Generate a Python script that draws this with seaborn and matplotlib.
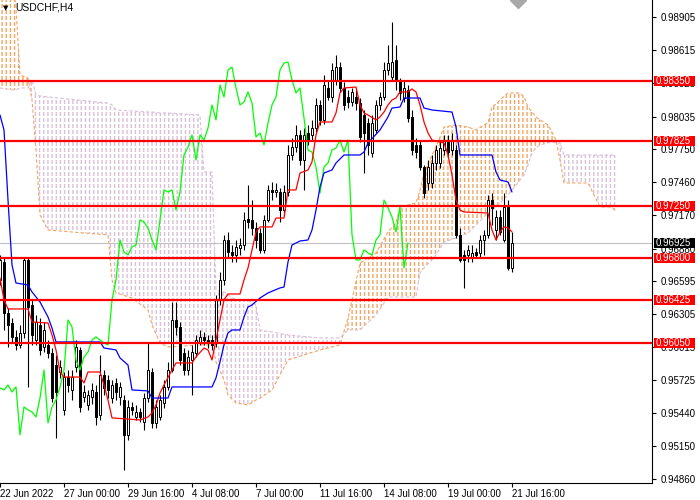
import numpy as np
import pandas as pd
import matplotlib
matplotlib.use('Agg')
import matplotlib.pyplot as plt
import matplotlib.transforms as mtransforms
from matplotlib.patches import Rectangle
import seaborn as sns

# USDCHF H4 candles, one per bar
opens = [0.96605, 0.96762, 0.96316, 0.96228, 0.96106, 0.96036, 0.96141, 0.96780, 0.96386, 0.96079,
         0.96211, 0.96018, 0.96036, 0.95966, 0.95860, 0.95799, 0.95467, 0.95755, 0.95642, 0.95843,
         0.95992, 0.95580, 0.95510, 0.95580, 0.95624, 0.95423, 0.95773, 0.95729, 0.95571, 0.95703,
         0.95580, 0.95554, 0.95248, 0.95493, 0.95405, 0.95449, 0.95361, 0.95571, 0.95799, 0.95353,
         0.95405, 0.95528, 0.95668, 0.95817, 0.96254, 0.96193, 0.95966, 0.95817, 0.95904, 0.95966,
         0.96062, 0.96106, 0.96079, 0.96079, 0.96053, 0.96430, 0.96605, 0.96955, 0.96850, 0.96824,
         0.96885, 0.96911, 0.97139, 0.97130, 0.97060, 0.97016, 0.96868, 0.97130, 0.97393, 0.97375,
         0.97375, 0.97217, 0.97375, 0.97699, 0.97769, 0.97874, 0.97655, 0.97892, 0.97874, 0.97935,
         0.98137, 0.98006, 0.98286, 0.98207, 0.98356, 0.98469, 0.98286, 0.98207, 0.98163, 0.98207,
         0.98154, 0.98049, 0.97979, 0.97716, 0.97918, 0.98137, 0.98207, 0.98443, 0.98382, 0.98531,
         0.98356, 0.98198, 0.98268, 0.98032, 0.97787, 0.97787, 0.97594, 0.97454, 0.97454, 0.97629,
         0.97629, 0.97743, 0.97813, 0.97743, 0.97743, 0.96999, 0.96824, 0.96824, 0.96797, 0.96850,
         0.96841, 0.96955, 0.96999, 0.97305, 0.97042, 0.97156, 0.96955, 0.97244, 0.96710]
highs = [0.96824, 0.96797, 0.96360, 0.96272, 0.96167, 0.96211, 0.96797, 0.96797, 0.96430, 0.96298,
         0.96272, 0.96237, 0.96079, 0.96009, 0.95948, 0.95904, 0.95799, 0.95817, 0.95817, 0.96079,
         0.96018, 0.95685, 0.95642, 0.95703, 0.95685, 0.95948, 0.95817, 0.95773, 0.95729, 0.95747,
         0.95712, 0.95598, 0.95554, 0.95536, 0.95510, 0.95484, 0.95615, 0.96053, 0.95834, 0.95554,
         0.95598, 0.95729, 0.95887, 0.96412, 0.96412, 0.96237, 0.96009, 0.95992, 0.96036, 0.96123,
         0.96167, 0.96149, 0.96123, 0.96123, 0.96473, 0.96675, 0.96999, 0.97025, 0.96911, 0.96955,
         0.96972, 0.97200, 0.97436, 0.97305, 0.97112, 0.97060, 0.97174, 0.97436, 0.97463, 0.97454,
         0.97410, 0.97436, 0.97787, 0.97848, 0.97962, 0.97918, 0.97935, 0.97962, 0.98006, 0.98198,
         0.98181, 0.98399, 0.98356, 0.98504, 0.98574, 0.98513, 0.98338, 0.98268, 0.98286, 0.98268,
         0.98198, 0.98093, 0.98023, 0.98049, 0.98181, 0.98251, 0.98513, 0.98662, 0.98863, 0.98662,
         0.98373, 0.98356, 0.98312, 0.98093, 0.97848, 0.97830, 0.97611, 0.97655, 0.97699, 0.97787,
         0.97830, 0.97874, 0.97874, 0.97892, 0.97787, 0.97060, 0.96868, 0.96911, 0.96911, 0.96885,
         0.96999, 0.97042, 0.97349, 0.97366, 0.97217, 0.97217, 0.97366, 0.97305, 0.97025]
lows = [0.96561, 0.96167, 0.96018, 0.96062, 0.95992, 0.96009, 0.96097, 0.95668, 0.96036, 0.96036,
        0.95948, 0.95974, 0.95922, 0.95536, 0.95221, 0.95747, 0.95423, 0.95624, 0.95554, 0.95799,
        0.95449, 0.95536, 0.95467, 0.95519, 0.95335, 0.95379, 0.95598, 0.95571, 0.95528, 0.95554,
        0.95510, 0.94941, 0.95204, 0.95423, 0.95379, 0.95361, 0.95291, 0.95536, 0.95309, 0.95309,
        0.95379, 0.95484, 0.95642, 0.95799, 0.96123, 0.95860, 0.95773, 0.95773, 0.95598, 0.95931,
        0.96036, 0.96036, 0.96009, 0.95992, 0.96018, 0.96386, 0.96561, 0.96797, 0.96762, 0.96762,
        0.96824, 0.96868, 0.97060, 0.96999, 0.96885, 0.96841, 0.96841, 0.97112, 0.97305, 0.97331,
        0.97112, 0.97174, 0.97340, 0.97655, 0.97725, 0.97611, 0.97393, 0.97787, 0.97830, 0.97900,
        0.97962, 0.97970, 0.98181, 0.98163, 0.98312, 0.98251, 0.98093, 0.98110, 0.98128, 0.98093,
        0.97813, 0.97541, 0.97699, 0.97681, 0.97892, 0.98093, 0.98181, 0.98399, 0.98356, 0.98268,
        0.98181, 0.98163, 0.97988, 0.97699, 0.97673, 0.97568, 0.97322, 0.97393, 0.97410, 0.97568,
        0.97585, 0.97699, 0.97690, 0.97699, 0.96972, 0.96762, 0.96535, 0.96762, 0.96762, 0.96797,
        0.96797, 0.96824, 0.96972, 0.97086, 0.96955, 0.96999, 0.96937, 0.96692, 0.96675]
closes = [0.96780, 0.96316, 0.96211, 0.96106, 0.96036, 0.96141, 0.96780, 0.96368, 0.96123, 0.96237,
          0.95992, 0.96167, 0.95966, 0.95571, 0.95624, 0.95843, 0.95755, 0.95685, 0.95755, 0.96018,
          0.95493, 0.95624, 0.95598, 0.95642, 0.95405, 0.95773, 0.95659, 0.95642, 0.95685, 0.95624,
          0.95668, 0.95248, 0.95493, 0.95467, 0.95449, 0.95405, 0.95571, 0.95817, 0.95353, 0.95493,
          0.95554, 0.95668, 0.95817, 0.96254, 0.96193, 0.95904, 0.95817, 0.95931, 0.95974, 0.96079,
          0.96106, 0.96079, 0.96053, 0.96036, 0.96430, 0.96605, 0.96955, 0.96850, 0.96824, 0.96894,
          0.96911, 0.97130, 0.97112, 0.97060, 0.96955, 0.96868, 0.97130, 0.97393, 0.97375, 0.97393,
          0.97217, 0.97375, 0.97699, 0.97769, 0.97874, 0.97655, 0.97874, 0.97830, 0.97935, 0.98137,
          0.98006, 0.98312, 0.98207, 0.98443, 0.98469, 0.98286, 0.98137, 0.98163, 0.98251, 0.98154,
          0.97857, 0.97892, 0.97787, 0.97979, 0.98137, 0.98207, 0.98443, 0.98504, 0.98513, 0.98356,
          0.98242, 0.98286, 0.98023, 0.97743, 0.97725, 0.97594, 0.97366, 0.97594, 0.97629, 0.97743,
          0.97760, 0.97830, 0.97725, 0.97830, 0.96999, 0.96780, 0.96780, 0.96868, 0.96841, 0.96824,
          0.96955, 0.96999, 0.97305, 0.97235, 0.97156, 0.97025, 0.97244, 0.96710, 0.96929]

# Ichimoku lines (bar index, price)
tenkan_bars = [0, 1, 2, 7, 8, 12, 13, 14, 15, 16, 20, 21, 22, 25, 26, 27, 28, 35, 37, 38, 39, 40, 41,
               43, 44, 48, 49, 51, 52, 53, 54, 56, 57, 60, 61, 62, 64, 65, 68, 69, 71, 72, 74, 75,
               77, 78, 79, 80, 83, 84, 85, 86, 89, 90, 91, 92, 94, 95, 96, 97, 98, 99, 100, 102,
               103, 104, 105, 106, 107, 108, 111, 112, 113, 114, 115, 116, 122, 123, 124, 125, 126,
               127, 128]
tenkan = [0.96622, 0.96430, 0.96351, 0.96351, 0.96237, 0.96228, 0.96123, 0.95992, 0.95799, 0.95755,
          0.95755, 0.95703, 0.95799, 0.95799, 0.95685, 0.95554, 0.95397, 0.95379, 0.95405, 0.95440,
          0.95510, 0.95615, 0.95685, 0.95817, 0.95878, 0.95878, 0.95931, 0.96009, 0.95992, 0.95904,
          0.96079, 0.96430, 0.96482, 0.96482, 0.96605, 0.96710, 0.97025, 0.97069, 0.97069, 0.97147,
          0.97147, 0.97393, 0.97393, 0.97541, 0.97568, 0.97638, 0.97874, 0.97988, 0.97988, 0.98067,
          0.98242, 0.98286, 0.98294, 0.98137, 0.98067, 0.98049, 0.98006, 0.98032, 0.98075, 0.98137,
          0.98181, 0.98198, 0.98251, 0.98251, 0.98277, 0.98251, 0.98137, 0.97988, 0.97892, 0.97830,
          0.97804, 0.97699, 0.97524, 0.97305, 0.97217, 0.97200, 0.97191, 0.97042, 0.96955, 0.97025,
          0.97069, 0.97060, 0.97025]

kijun_bars = [0, 1, 2, 3, 4, 7, 8, 10, 12, 13, 14, 25, 26, 29, 30, 32, 33, 37, 38, 42, 43, 53, 54,
              55, 56, 57, 58, 60, 61, 62, 63, 65, 67, 70, 71, 72, 73, 75, 77, 78, 79, 80, 81, 83,
              84, 86, 90, 91, 92, 95, 97, 98, 100, 101, 105, 106, 108, 113, 114, 115, 123, 124,
              125, 127, 128]
kijun = [0.98049, 0.97918, 0.97305, 0.96736, 0.96578, 0.96561, 0.96500, 0.96412, 0.96281, 0.96184,
         0.96062, 0.96062, 0.96009, 0.95992, 0.95922, 0.95860, 0.95642, 0.95633, 0.95571, 0.95571,
         0.95668, 0.95668, 0.95747, 0.95887, 0.96036, 0.96141, 0.96167, 0.96167, 0.96281, 0.96368,
         0.96386, 0.96447, 0.96491, 0.96535, 0.96543, 0.96762, 0.96911, 0.96946, 0.96955, 0.97042,
         0.97217, 0.97419, 0.97541, 0.97568, 0.97629, 0.97699, 0.97699, 0.97725, 0.97804, 0.97918,
         0.98032, 0.98110, 0.98119, 0.98198, 0.98198, 0.98110, 0.98093, 0.98075, 0.97944, 0.97699,
         0.97699, 0.97550, 0.97480, 0.97463, 0.97375]

# Kumo (Senkou Span A / B), already shifted 26 bars forward
cloud_bars = [0, 3, 4, 5, 7, 8, 9, 10, 12, 27, 28, 29, 33, 37, 38, 40, 42, 50, 51, 53, 54, 56, 57,
              59, 62, 64, 65, 68, 72, 80, 85, 87, 90, 94, 97, 99, 100, 104, 105, 106, 108, 109,
              111, 114, 117, 119, 121, 122, 123, 124, 125, 127, 130, 131, 132, 133, 134, 135, 137,
              138, 139, 140, 141, 147, 150, 153, 154]
span_a = [0.99275, 0.99275, 0.98986, 0.98399, 0.98373, 0.98181, 0.97743, 0.97174, 0.97042, 0.96999,
          0.96605, 0.96491, 0.96447, 0.96342, 0.96211, 0.96053, 0.96018, 0.96036, 0.96036, 0.96036,
          0.95887, 0.95729, 0.95598, 0.95528, 0.95510, 0.95554, 0.95571, 0.95642, 0.95904, 0.95992,
          0.96036, 0.96272, 0.96753, 0.96841, 0.97025, 0.97104, 0.97244, 0.97279, 0.97393, 0.97541,
          0.97699, 0.97769, 0.97944, 0.97962, 0.97944, 0.97918, 0.97962, 0.97979, 0.98119, 0.98145,
          0.98181, 0.98242, 0.98242, 0.98207, 0.98119, 0.98075, 0.98032, 0.98006, 0.97962, 0.97900,
          0.97830, 0.97655, 0.97454, 0.97454, 0.97244, 0.97244, 0.97200]
span_b = [0.98286, 0.98268, 0.98268, 0.98286, 0.98286, 0.98356, 0.98224, 0.98216, 0.98207, 0.98154,
          0.98137, 0.98093, 0.98084, 0.98075, 0.98075, 0.98067, 0.98067, 0.98049, 0.97550, 0.97550,
          0.96517, 0.96500, 0.96473, 0.96430, 0.96430, 0.96386, 0.96167, 0.96149, 0.96123, 0.96097,
          0.96097, 0.96167, 0.96167, 0.96298, 0.96456, 0.96456, 0.96456, 0.96456, 0.96666, 0.96710,
          0.96780, 0.96824, 0.96937, 0.96972, 0.97016, 0.97086, 0.97156, 0.97191, 0.97217, 0.97244,
          0.97279, 0.97349, 0.97480, 0.97524, 0.97611, 0.97716, 0.97760, 0.97787, 0.97804, 0.97813,
          0.97804, 0.97804, 0.97699, 0.97699, 0.97699, 0.97699, 0.97699]

chikou_shift = 26

tick_bars = [0, 16, 32, 48, 64, 80, 96, 112, 128]
tick_labels = ['22 Jun 2022', '27 Jun 00:00', '29 Jun 16:00', '4 Jul 08:00', '7 Jul 00:00',
               '11 Jul 16:00', '14 Jul 08:00', '19 Jul 00:00', '21 Jul 16:00']
price_ticks = [0.98905, 0.98615, 0.98325, 0.98035, 0.97750, 0.97460, 0.97170, 0.96880,
               0.96595, 0.96305, 0.96015, 0.95725, 0.95440, 0.95150, 0.94860]
levels = [0.98350, 0.97825, 0.97250, 0.96800, 0.96425, 0.96050]
last_price = 0.96925

ylo, yhi = 0.94827, 0.99056
n_slots = 163

sns.set_style('white')
plt.rcParams['font.family'] = ['Liberation Sans', 'DejaVu Sans']
plt.rcParams['hatch.linewidth'] = 1.0

fig = plt.figure(figsize=(7, 5), dpi=100)
ax = fig.add_axes([0, 17 / 500, 652 / 700, 483 / 500])
px = (yhi - ylo) / 483  # price per pixel

ohlc = pd.DataFrame({'open': opens, 'high': highs, 'low': lows, 'close': closes})
bars = ohlc.index.values
bull = ohlc['close'] >= ohlc['open']

# cloud hatching, broken into dashes by white stripes
a = np.array(span_a)
b = np.array(span_b)
ax.fill_between(cloud_bars, a, b, where=a >= b, interpolate=True, facecolor='none',
                edgecolor='#F4A460', hatch='||||', linewidth=0, zorder=0.5)
ax.fill_between(cloud_bars, a, b, where=a < b, interpolate=True, facecolor='none',
                edgecolor='#D8BFD8', hatch='||||', linewidth=0, zorder=0.5)
ax.hlines(np.arange(ylo, yhi, 6 * px), 0, n_slots, colors='white', linewidth=1.5, zorder=0.6)
sns.lineplot(x=cloud_bars, y=span_a, color='#F4A460', lw=0.8, linestyle=(0, (3, 2)), ax=ax, zorder=0.7)
sns.lineplot(x=cloud_bars, y=span_b, color='#D8BFD8', lw=0.8, linestyle=(0, (3, 2)), ax=ax, zorder=0.7)

ax.axhline(last_price, color='#C0C0C0', lw=0.8, zorder=0.8)

# candles
ax.vlines(bars, ohlc['low'], ohlc['high'], color='black', lw=0.8, zorder=3)
body_lo = ohlc[['open', 'close']].min(axis=1)
body_h = (ohlc['close'] - ohlc['open']).abs().clip(lower=px * 0.8)
ax.bar(bars, body_h, bottom=body_lo, width=0.7, color=np.where(bull, 'white', 'black'),
       edgecolor='black', linewidth=0.7, zorder=4)

# ichimoku lines
sns.lineplot(x=bars[:-chikou_shift], y=closes[chikou_shift:], color='#00FF00', lw=0.9, ax=ax, zorder=4.6)
sns.lineplot(x=tenkan_bars, y=tenkan, color='#FF0000', lw=0.9, ax=ax, zorder=4.7)
sns.lineplot(x=kijun_bars, y=kijun, color='#0000FF', lw=0.9, ax=ax, zorder=4.7)

# horizontal levels
for lv in levels:
    ax.axhline(lv, color='#FF0000', lw=1.6, zorder=6)

ax.set_xlim(0, n_slots)
ax.set_ylim(ylo, yhi)

# price labels on the right axis
trans = mtransforms.blended_transform_factory(ax.transAxes, ax.transData)
h = 10 * px
for lv, bg in [(v, '#FF0000') for v in levels] + [(last_price, 'black')]:
    ax.add_patch(Rectangle((654 / 652, lv - h / 2), 41 / 652, h, transform=trans,
                           facecolor=bg, edgecolor='none', clip_on=False, zorder=10))
    ax.text(656 / 652, lv, f'{lv:.5f}', transform=trans, color='white', fontsize=7,
            va='center', ha='left', clip_on=False, zorder=11)

ax.text(3 / 652, 1 - 8 / 483, '\u25bc', transform=ax.transAxes, fontsize=5,
        family=['DejaVu Sans'], va='center', ha='left', color='black')
ax.text(15 / 652, 1 - 8 / 483, 'USDCHF,H4', transform=ax.transAxes, fontsize=7.5,
        va='center', ha='left', color='black')
ax.plot([129.5], [yhi], marker='D', ms=8, color='#A8A8A8', zorder=7)

ax.set_xticks(tick_bars)
ax.set_xticklabels(tick_labels, ha='left', fontsize=7, color='black')
ax.yaxis.tick_right()
ax.set_yticks(price_ticks)
ax.set_yticklabels([f'{v:.5f}' for v in price_ticks], fontsize=7, color='black')
ax.tick_params(axis='x', bottom=True, direction='out', length=3, width=0.8, pad=1, colors='black')
ax.tick_params(axis='y', right=True, left=False, direction='out', length=3, width=0.8, pad=3, colors='black')
for side in ['left', 'top']:
    ax.spines[side].set_visible(False)
for side in ['right', 'bottom']:
    ax.spines[side].set_color('black')
    ax.spines[side].set_linewidth(0.8)
ax.set_xlabel('')
ax.set_ylabel('')

fig.savefig('out.png', dpi=100)
